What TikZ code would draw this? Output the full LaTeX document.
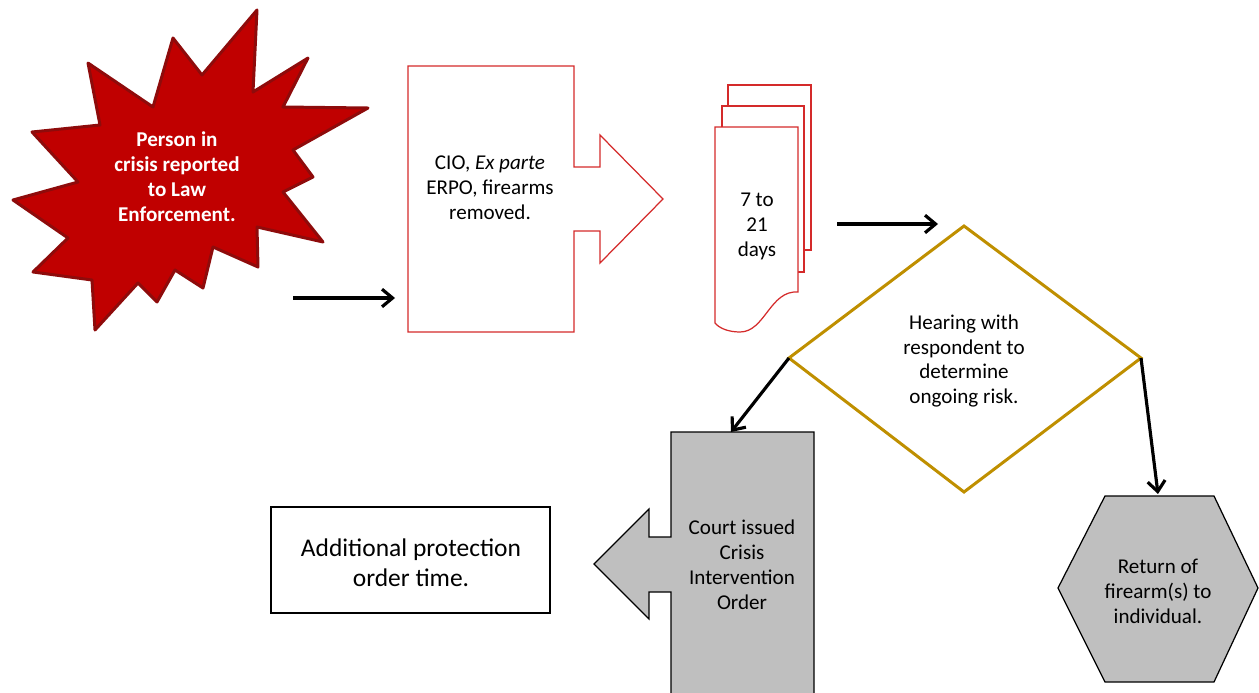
\documentclass[tikz,border=0pt]{standalone}
\usepackage{fontspec}
\setmainfont{Carlito}
\usetikzlibrary{arrows.meta}
\definecolor{burst}{HTML}{C00000}
\definecolor{burstline}{HTML}{8E0B0B}
\definecolor{docred}{HTML}{D42A2A}
\definecolor{gold}{HTML}{BF8F00}
\definecolor{court}{HTML}{BFBFBF}

\begin{document}
\begin{tikzpicture}[x=0.02cm, y=-0.02cm,
            txt/.style={align=center, font=\fontsize{12}{14.2}\selectfont},
            flow/.style={-{Straight Barb[length=6pt, width=10pt]}, line width=1.8pt},
            docbox/.style={draw=docred, fill=white, line width=0.7pt},
            graybox/.style={draw=black, fill=court, line width=0.7pt}]
            \useasboundingbox (0,0) rectangle (1259,693);

            % starburst
            \draw[fill=burst, draw=burstline, line width=1.7pt, line join=round]
                (257,10) -- (253,92) -- (308,58) -- (283,107) -- (368,108) -- (293,150)
                -- (313,177) -- (283,192) -- (323,242) -- (257,227) -- (258,267)
                -- (213,247) -- (203,288) -- (175,270) -- (157,302) -- (138,283)
                -- (95,330) -- (92,280) -- (33,272) -- (68,238) -- (13,200) -- (78,182)
                -- (32,132) -- (100,125) -- (88,63) -- (153,107) -- (173,38) -- (202,75) -- cycle;
            \node[txt, text=white, font=\fontsize{12}{14.2}\selectfont\bfseries] (report) at (177,177)
                {Person in\\crisis reported\\to Law\\Enforcement.};

            % right arrow callout
            \draw[docbox] (408,66) -- (574,66) -- (574,167) -- (600,167) -- (600,135) -- (663,199)
                -- (600,263) -- (600,231) -- (574,231) -- (574,332) -- (408,332) -- cycle;
            \node[txt] (erpo) at (490,188) {CIO, \emph{Ex parte}\\ERPO, firearms\\removed.};

            % multi document
            \draw[docbox] (728,85) rectangle (811,250);
            \draw[docbox] (722,106) rectangle (804,272);
            \draw[docbox] (715,127) -- (798,127) -- (798,292)
                .. controls (770,290) and (765,332) .. (740,332)
                .. controls (728,332) and (719,328) .. (715,323) -- cycle;
            \node[txt] (days) at (757,226) {7 to\\21\\days};

            % decision
            \coordinate (ht) at (964,226);
            \coordinate (hl) at (789,358);
            \coordinate (hr) at (1141,358);
            \coordinate (hb) at (964,492);
            \draw[draw=gold, line width=1.7pt] (ht) -- (hr) -- (hb) -- (hl) -- cycle;
            \node[txt] (hearing) at (964,361) {Hearing with\\respondent to\\determine\\ongoing risk.};

            % left arrow callout
            \draw[graybox] (671,700) -- (671,592) -- (649,592) -- (649,619) -- (594,564)
                -- (649,509) -- (649,537) -- (671,537) -- (671,432) -- (814,432) -- (814,700);
            \node[txt] (cio) at (742,565) {Court issued\\Crisis\\Intervention\\Order};

            % extra time
            \draw[black, line width=0.7pt] (271,507) rectangle (550,613);
            \node[align=center, font=\fontsize{14.5}{17}\selectfont] (extra) at (411,563)
                {Additional protection\\order time.};

            % hexagon
            \draw[graybox] (1105,496) -- (1214,496) -- (1258,588) -- (1214,682)
                -- (1105,682) -- (1058,588) -- cycle;
            \node[txt] (giveback) at (1158,591) {Return of\\firearm(s) to\\individual.};

            % connectors
            \coordinate (a1s) at (293,298);
            \coordinate (a1e) at (395,298);
            \coordinate (a2s) at (837,224);
            \coordinate (a2e) at (938,224);
            \coordinate (ciotop) at (731,432);
            \coordinate (hextop) at (1158,494);
            \draw[flow] (a1s) -- (a1e);
            \draw[flow] (a2s) -- (a2e);
            \draw[flow] (hl) -- (ciotop);
            \draw[flow] (hr) -- (hextop);
        \end{tikzpicture}
\end{document}
